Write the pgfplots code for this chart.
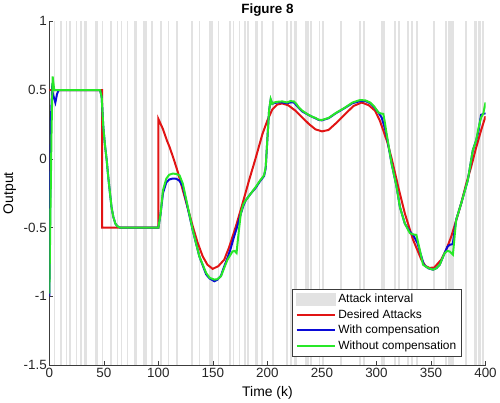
\documentclass[border=0pt]{standalone}
\usepackage{pgfplots}
\pgfplotsset{compat=1.18}
\usepackage{fontspec}
\setmainfont{Liberation Sans}
\definecolor{bandgray}{RGB}{226,226,226}
\definecolor{cred}{RGB}{225,20,20}
\definecolor{cblue}{RGB}{10,10,215}
\definecolor{cgreen}{RGB}{40,232,40}
\definecolor{axgray}{RGB}{60,60,60}
\newcommand{\band}[2]{\addplot[draw=none, fill=bandgray, forget plot] coordinates {(#1,-1.5) (#2,-1.5) (#2,1) (#1,1)};}
\begin{document}
\begin{tikzpicture}
\begin{axis}[
  scale only axis,
  width=439pt, height=346pt,
  xmin=0, xmax=400, ymin=-1.5, ymax=1,
  xtick={0,50,...,400},
  ytick={-1.5,-1,-0.5,0,0.5,1},
  yticklabels={-1.5,-1,-0.5,0,0.5,1},
  axis x line*=bottom, axis y line*=left,
  axis line style={axgray, line width=0.6pt},
  tick style={axgray, line width=0.6pt},
  major tick length=4pt,
  tick align=inside,
  /pgf/number format/assume math mode=true,
  ticklabel style={font=\fontsize{13.5}{15}\selectfont, text=black!85},
  yticklabel style={xshift=1pt},
  title={Figure 8},
  title style={font=\bfseries\fontsize{13.5}{15}\selectfont, yshift=-4pt},
  xlabel={Time (k)}, ylabel={Output},
  label style={font=\fontsize{14}{16}\selectfont},
  xlabel style={yshift=-1pt},
  ylabel style={yshift=1pt},
  legend image code/.code={\draw[#1] (0pt,0pt) -- (39pt,0pt);},
  legend style={at={(0.945,0.026)}, anchor=south east, draw=axgray, line width=0.6pt, fill=white,
    font=\fontsize{12}{14}\selectfont, cells={anchor=west}, row sep=1.5pt, inner sep=3pt},
]
% attack interval bands
\band{4}{5.5}
\band{10}{11.6}
\band{15.2}{16.4}
\band{18.2}{20}
\band{24.6}{25.5}
\band{28.5}{29.5}
\band{32.2}{34.6}
\band{41.9}{44.4}
\band{48}{49.2}
\band{55.9}{57.7}
\band{61.7}{63.2}
\band{66}{67}
\band{70.8}{72.3}
\band{77.8}{80.2}
\band{85.8}{89.6}
\band{93}{95}
\band{101.2}{103.6}
\band{109}{110}
\band{115.8}{117.6}
\band{130}{131.9}
\band{137.6}{138.6}
\band{146.1}{149.8}
\band{154.3}{155.9}
\band{164.4}{166.8}
\band{168}{169.6}
\band{173.5}{174.6}
\band{178.7}{180.2}
\band{181.7}{183.2}
\band{188.7}{191.4}
\band{193.9}{196.3}
\band{204.5}{206}
\band{216.7}{218.8}
\band{220.6}{222.7}
\band{224.2}{226.7}
\band{234.9}{237.9}
\band{239.5}{241}
\band{247}{248.6}
\band{250}{252.2}
\band{266.8}{268.6}
\band{284.4}{285.6}
\band{288}{289.6}
\band{304.2}{307.8}
\band{316.3}{317.5}
\band{319.3}{321.5}
\band{328.4}{330}
\band{332.1}{333.6}
\band{336.6}{338.2}
\band{351.9}{353.4}
\band{362.5}{364.9}
\band{365.5}{371}
\band{380.8}{382.6}
\band{389.9}{392.3}
\band{393.5}{395.9}
\band{397}{398.5}
\addlegendimage{legend image code/.code={\fill[bandgray] (0pt,-6pt) rectangle (39pt,6pt);}}
\addlegendentry{Attack interval}
% desired
\addplot[cred, line width=2pt] coordinates {
(0,0.5) (48.5,0.5) (48.5,-0.5) (100,-0.5) (100,0.29)
(104,0.22) (108,0.13) (110.3,0.085) (114,0.0) (118,-0.10) (122.4,-0.228)
(127,-0.36) (131.5,-0.49) (136,-0.61) (140.7,-0.71) (145,-0.77) (149.8,-0.80)
(155,-0.78) (160.4,-0.733) (165,-0.64) (171.1,-0.49) (177,-0.33) (183.2,-0.155)
(189,0.0) (195.4,0.18) (200,0.28) (204.5,0.36) (209,0.395) (213.6,0.403)
(219,0.39) (225.8,0.35) (232,0.30) (238,0.254) (244,0.215) (250,0.20)
(256,0.21) (263,0.26) (271.4,0.327) (279,0.385) (286.5,0.41) (293,0.39)
(298.7,0.35) (303,0.28) (307,0.19) (310,0.12) (314,0.0) (320,-0.204)
(326,-0.396) (333.6,-0.589) (341.2,-0.733) (345,-0.78) (348.8,-0.793)
(353,-0.79) (359.4,-0.733) (364,-0.66) (368.6,-0.565) (373,-0.45)
(377.7,-0.324) (382,-0.19) (386.8,-0.06) (391,0.07) (395.9,0.206) (400,0.31)
};
\addlegendentry{Desired Attacks}
% with compensation
\addplot[cblue, line width=2pt] coordinates {
(0,-1.0) (1.5,0.3) (2.5,0.5) (4,0.45) (5.5,0.41) (7,0.47) (8.5,0.5)
(46.5,0.5) (48,0.45) (49.5,0.23) (51,0.1) (52.6,-0.01) (54,-0.13) (55.6,-0.25)
(57,-0.35) (58.6,-0.42) (60.5,-0.47) (62.3,-0.49) (65,-0.5) (100,-0.5)
(102,-0.4) (104.2,-0.25) (107.3,-0.17) (110,-0.15) (113.3,-0.143) (116.5,-0.145)
(119.4,-0.16) (122.4,-0.2) (127,-0.36) (131.5,-0.52) (137.6,-0.71) (143.8,-0.84)
(147,-0.87) (151.3,-0.89) (154,-0.88) (157.4,-0.85) (160,-0.79) (163.4,-0.72)
(166,-0.66) (169.6,-0.56) (172,-0.5) (175.6,-0.40) (178,-0.34) (180.2,-0.3)
(185,-0.25) (189.3,-0.21) (193,-0.165) (196.9,-0.125) (198.4,-0.07) (200,0.15)
(201.5,0.35) (203,0.43) (204.5,0.40) (206,0.405) (209,0.41) (213.6,0.41)
(218,0.405) (221,0.41) (224.3,0.41) (226.5,0.39) (228.8,0.37) (232,0.345)
(236.4,0.325) (240,0.31) (244,0.295) (247,0.283) (250,0.28) (253,0.288)
(256.2,0.296) (263,0.333) (271.4,0.372) (278,0.405) (285,0.42) (290,0.42)
(294.2,0.405) (298,0.375) (301.7,0.338) (304.8,0.30) (307.8,0.22) (309.3,0.17)
(313.9,-0.035) (318.4,-0.2) (321.5,-0.35) (326,-0.47) (330.6,-0.53) (333.6,-0.553)
(337.6,-0.613) (341.2,-0.71) (343.5,-0.77) (347.3,-0.795) (351.9,-0.806)
(355,-0.795) (358,-0.77) (362.5,-0.685) (365,-0.64) (367.1,-0.625) (370,-0.62)
(372,-0.5) (373.1,-0.444) (377.7,-0.324) (383.8,-0.155) (386,-0.05) (388.3,0.06)
(391.4,0.134) (393.5,0.2) (395.9,0.32) (399,0.33) (400,0.33)
};
\addlegendentry{With compensation}
% without compensation
\addplot[cgreen, line width=2pt] coordinates {
(0,-0.98) (2,0.2) (3,0.6) (4.5,0.5) (46.5,0.5) (48,0.45) (49.5,0.23) (51,0.1)
(52.6,-0.01) (54,-0.13) (55.6,-0.25) (57,-0.35) (58.6,-0.42) (60.5,-0.47)
(62.3,-0.49) (65,-0.5) (100,-0.5) (102,-0.4) (104.2,-0.228) (107.3,-0.143)
(110,-0.115) (113.3,-0.107) (116.5,-0.11) (119.4,-0.12) (122.4,-0.18) (127,-0.35)
(131.5,-0.517) (137.6,-0.71) (143.8,-0.83) (147,-0.865) (151.3,-0.878)
(154,-0.875) (157.4,-0.854) (160,-0.8) (163.4,-0.733) (168,-0.673) (170,-0.67)
(171.7,-0.685) (173,-0.58) (175.6,-0.396) (178,-0.33) (180.2,-0.3) (185,-0.25)
(189.3,-0.204) (193,-0.16) (196.9,-0.12) (198.4,-0.06) (200,0.15) (201.5,0.35)
(203,0.435) (204.5,0.40) (206,0.41) (209,0.415) (213.6,0.418) (218,0.41)
(221,0.42) (224.3,0.418) (226.5,0.40) (228.8,0.374) (232,0.35) (236.4,0.327)
(240,0.31) (244,0.298) (247,0.285) (250,0.283) (253,0.29) (256.2,0.298)
(263,0.335) (271.4,0.374) (278,0.41) (285,0.428) (290,0.425) (294.2,0.41)
(298,0.38) (301.7,0.338) (304,0.33) (306.3,0.327) (307.8,0.26) (309.3,0.182)
(313.9,-0.035) (318.4,-0.2) (321.5,-0.35) (326,-0.47) (330.6,-0.54) (334,-0.55)
(336.6,-0.553) (339.7,-0.66) (342.7,-0.77) (347.3,-0.793) (351.9,-0.806)
(355,-0.795) (358,-0.77) (362.5,-0.685) (365,-0.67) (367.1,-0.673) (370.1,-0.697)
(373.1,-0.444) (377.7,-0.324) (383.8,-0.155) (386,-0.05) (388.3,0.06)
(391.4,0.134) (393.5,0.22) (395.9,0.3) (398,0.33) (400,0.41)
};
\addlegendentry{Without compensation}
\end{axis}
\end{tikzpicture}
\end{document}
